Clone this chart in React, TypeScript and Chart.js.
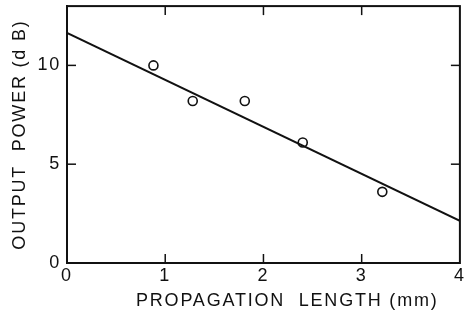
import React, { useEffect, useRef } from "react";
import { Chart, registerables } from "chart.js";

Chart.register(...registerables);

// Measured points
const lengthMm = [0.88, 1.28, 1.81, 2.4, 3.21];
const powerDb = [10.0, 8.2, 8.2, 6.1, 3.6];
// Fitted straight line end points
const fitX = [0, 4];
const fitY = [11.65, 2.13];
// Axis ticks
const xTicks = [0, 1, 2, 3, 4];
const yTicks = [0, 5, 10];
const xMin = 0;
const xMax = 4;
const yMin = 0;
const yMax = 13;
const xTitle = "       PROPAGATION  LENGTH (mm)";
const yTitle = "OUTPUT  POWER (d B)";

const INK = "#111";
const FONT = "'Liberation Sans', Arial, sans-serif";

const frameTicks = {
  id: "frameTicks",
  beforeDraw(chart: any) {
    chart.ctx.letterSpacing = "1.8px";
  },
  afterDatasetsDraw(chart: any) {
    const { ctx, chartArea: a, scales } = chart;
    ctx.save();
    ctx.strokeStyle = INK;
    ctx.lineWidth = 2;
    ctx.strokeRect(a.left, a.top, a.right - a.left, a.bottom - a.top);
    ctx.lineWidth = 1.5;
    const L = 9;
    const seg = (x1: number, y1: number, x2: number, y2: number) => {
      ctx.beginPath();
      ctx.moveTo(x1, y1);
      ctx.lineTo(x2, y2);
      ctx.stroke();
    };
    for (const v of xTicks) {
      if (v === xMin || v === xMax) continue;
      const px = scales.x.getPixelForValue(v);
      seg(px, a.bottom, px, a.bottom - L);
      seg(px, a.top, px, a.top + L);
    }
    for (const v of yTicks) {
      if (v === yMin || v === yMax) continue;
      const py = scales.y.getPixelForValue(v);
      seg(a.left, py, a.left + L, py);
      seg(a.right, py, a.right - L, py);
    }
    ctx.restore();
  },
};

export default function App() {
  const ref = useRef<HTMLCanvasElement>(null);
  useEffect(() => {
    if (!ref.current) return;
    const chart = new Chart(ref.current, {
      type: "scatter",
      data: {
        datasets: [
          {
            type: "line",
            data: fitX.map((x, i) => ({ x, y: fitY[i] })),
            borderColor: INK,
            borderWidth: 2,
            pointRadius: 0,
            fill: false,
          } as any,
          {
            type: "scatter",
            data: lengthMm.map((x, i) => ({ x, y: powerDb[i] })),
            pointStyle: "circle",
            pointRadius: 4.5,
            backgroundColor: "#fff",
            borderColor: INK,
            borderWidth: 1.6,
          },
        ],
      },
      options: {
        responsive: false,
        animation: false,
        layout: { padding: { top: 5, right: 5, left: 0, bottom: 0 } },
        plugins: { legend: { display: false }, tooltip: { enabled: false } },
        scales: {
          x: {
            type: "linear",
            min: xMin,
            max: xMax,
            afterBuildTicks: (s: any) => {
              s.ticks = xTicks.map((v) => ({ value: v }));
            },
            afterFit: (s: any) => {
              s.height = 58;
              s.paddingLeft = 0;
              s.paddingRight = 0;
            },
            grid: { display: false, drawTicks: false },
            border: { color: INK, width: 2 },
            ticks: {
              color: INK,
              padding: 2,
              maxRotation: 0,
              font: { family: FONT, size: 18 },
            },
            title: {
              display: true,
              text: xTitle,
              color: INK,
              font: { family: FONT, size: 18 },
              padding: { top: 0, bottom: 9 },
            },
          },
          y: {
            type: "linear",
            min: yMin,
            max: yMax,
            afterBuildTicks: (s: any) => {
              s.ticks = yTicks.map((v) => ({ value: v }));
            },
            afterFit: (s: any) => {
              s.width = 67;
              s.paddingTop = 0;
              s.paddingBottom = 0;
            },
            grid: { display: false, drawTicks: false },
            border: { color: INK, width: 2 },
            ticks: {
              color: INK,
              padding: 6,
              font: { family: FONT, size: 18 },
            },
            title: {
              display: true,
              text: yTitle,
              color: INK,
              font: { family: FONT, size: 18 },
              padding: { top: 9, bottom: 0 },
            },
          },
        },
      },
      plugins: [frameTicks],
    });
    return () => chart.destroy();
  }, []);
  return (
    <div style={{ position: "fixed", left: 0, top: 0, width: 466, height: 321, background: "#fff" }}>
      <canvas ref={ref} width={466} height={321} />
    </div>
  );
}
